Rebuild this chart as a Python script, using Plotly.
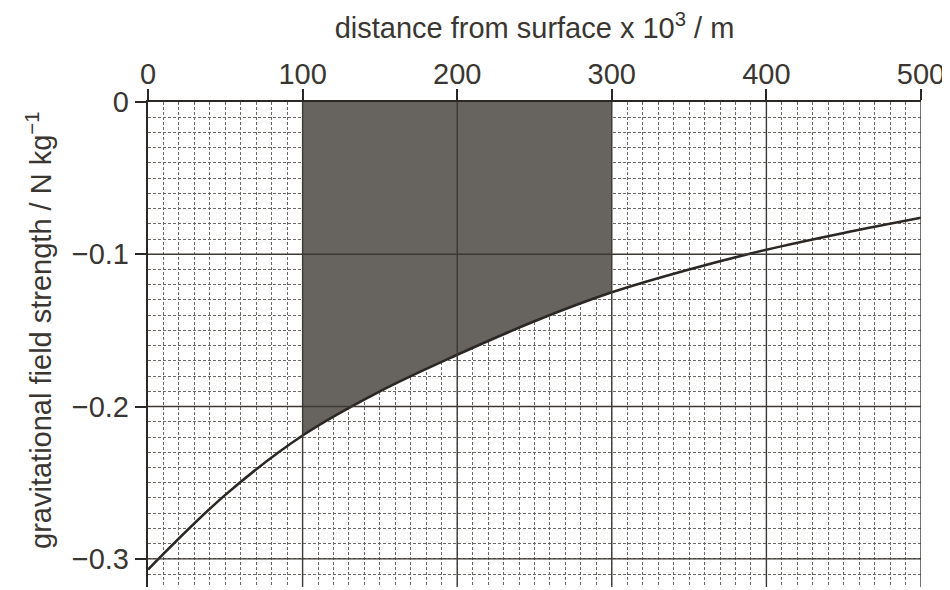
import plotly.graph_objects as go

# Data
distance = [0, 50, 100, 150, 200, 250, 300, 350, 400, 450, 500]
field_strength = [-0.307, -0.258, -0.219, -0.190, -0.166, -0.144, -0.125, -0.110, -0.097, -0.086, -0.076]
shade_from, shade_to = 100, 300

x_ticks = [0, 100, 200, 300, 400, 500]
x_tick_labels = ["0", "100", "200", "300", "400", "500"]
y_ticks = [0, -0.1, -0.2, -0.3]
y_tick_labels = ["0", "\u22120.1", "\u22120.2", "\u22120.3"]

FONT = "Liberation Sans, Arial, Helvetica, sans-serif"
TEXT = "#3a3632"

shade_x = [x for x in distance if shade_from <= x <= shade_to]
shade_y = [y for x, y in zip(distance, field_strength) if shade_from <= x <= shade_to]

fig = go.Figure()
fig.add_trace(go.Scatter(
    x=shade_x, y=shade_y, mode="lines", line=dict(shape="spline", width=0, color="#67645f"),
    fill="tozeroy", fillcolor="#67645f", hoverinfo="skip", showlegend=False))
fig.add_trace(go.Scatter(
    x=distance, y=field_strength, mode="lines",
    line=dict(shape="spline", width=2.6, color="#2b2724"), showlegend=False))

# major grid lines drawn above the shaded area
for xv in x_ticks[1:]:
    fig.add_shape(type="line", xref="x", yref="paper", x0=xv, x1=xv, y0=0, y1=1,
                  line=dict(color="#3c3834", width=1.4), layer="above")
for yv in y_ticks[1:]:
    fig.add_shape(type="line", xref="paper", yref="y", x0=0, x1=1, y0=yv, y1=yv,
                  line=dict(color="#3c3834", width=1.4), layer="above")

# y-axis title as a rotated annotation for exact placement
fig.add_annotation(
    text="gravitational field strength / N kg<sup>\u22121</sup>",
    xref="paper", yref="paper", x=-0.141, y=0.528, xanchor="center", yanchor="middle",
    textangle=-90, showarrow=False, font=dict(size=29, color=TEXT))

fig.update_layout(
    width=942, height=582,
    margin=dict(l=140, r=29, t=94, b=3),
    paper_bgcolor="white", plot_bgcolor="white",
    font=dict(family=FONT, size=29, color=TEXT),
    xaxis=dict(
        side="top", range=[0, 500], tickvals=x_ticks, ticktext=x_tick_labels,
        ticks="outside", ticklen=11, tickwidth=1.5, tickcolor="#2b2724",
        showline=True, linewidth=2.2, linecolor="#2b2724",
        showgrid=False, zeroline=False, automargin=False, ticklabelstandoff=-7,
        minor=dict(dtick=10, tick0=0, showgrid=True, gridcolor="#6c6863", griddash="3px,2px", gridwidth=1.4, ticks=""),
        title=dict(text="distance from surface x 10<sup>3</sup> / m", font=dict(size=29, color=TEXT), standoff=12),
        tickfont=dict(size=29, color=TEXT),
    ),
    yaxis=dict(
        range=[-0.3185, 0], tickvals=y_ticks, ticktext=y_tick_labels,
        ticks="outside", ticklen=11, tickwidth=1.5, tickcolor="#2b2724",
        showline=True, linewidth=2.4, linecolor="#2b2724",
        showgrid=False, zeroline=False, automargin=False,
        minor=dict(dtick=0.01, tick0=0, showgrid=True, gridcolor="#6c6863", griddash="3px,2px", gridwidth=1.4, ticks=""),
        tickfont=dict(size=29, color=TEXT),
    ),
)

fig.write_html("out.html")
